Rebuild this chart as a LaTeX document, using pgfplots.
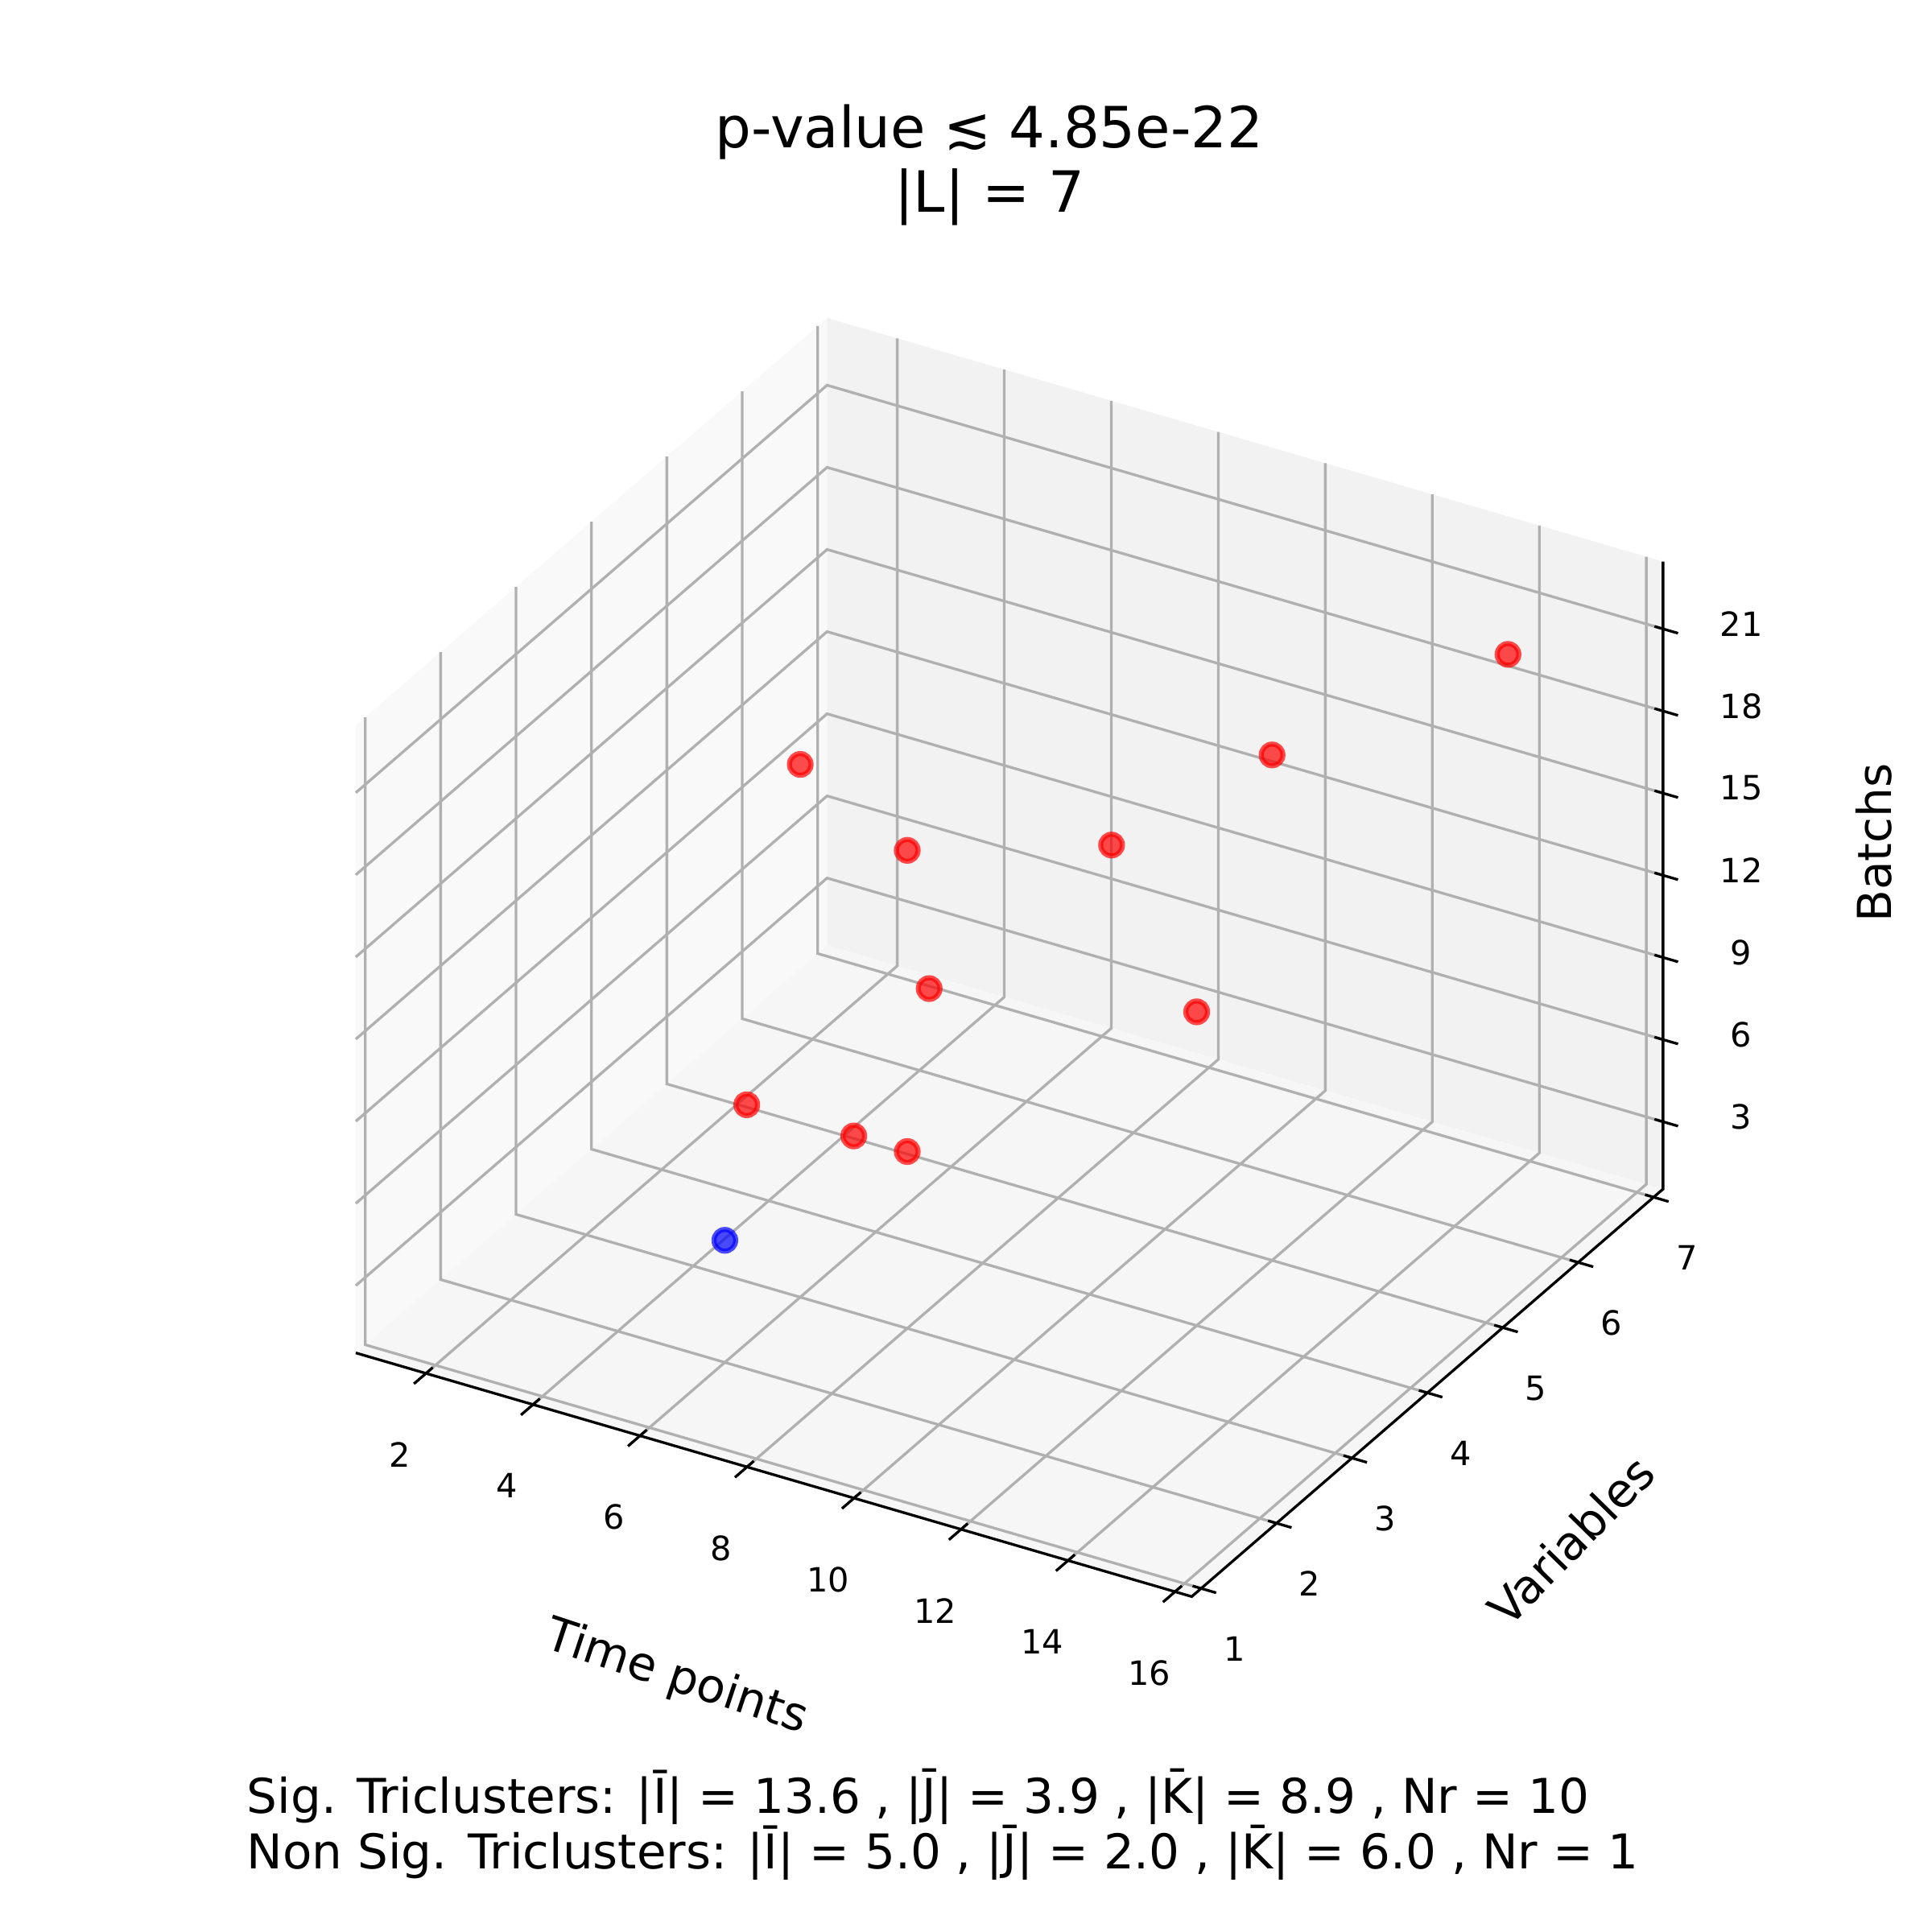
\documentclass[border=0pt]{standalone}
\usepackage{pgfplots}
\pgfplotsset{compat=1.18}
\usepackage{fontspec}
\setmainfont{DejaVu Sans}
\definecolor{paneX}{gray}{0.975}
\definecolor{paneY}{gray}{0.95}
\definecolor{paneZ}{gray}{0.9625}
\definecolor{gridc}{gray}{0.69}
\tikzset{
  gridst/.style={draw=gridc, line width=0.8pt},
  tk/.style={draw=black, line width=0.8pt},
  tl/.style={inner sep=0pt, font=\fontsize{10}{12}\selectfont},
}
\begin{document}
\begin{tikzpicture}
\begin{axis}[
  hide axis, clip=false,
  x={(16.011pt,-4.667pt)}, y={(22.566pt,19.513pt)}, z={(0pt,8.194pt)},
  xmin=0.6875, xmax=16.3125, ymin=0.875, ymax=7.125, zmin=0.5417, zmax=23.4583,
]
% panes
\fill[paneX] (axis cs:0.6875,0.875,0.5417) -- (axis cs:0.6875,7.125,0.5417) -- (axis cs:0.6875,7.125,23.4583) -- (axis cs:0.6875,0.875,23.4583) -- cycle;
\fill[paneY] (axis cs:0.6875,7.125,0.5417) -- (axis cs:16.3125,7.125,0.5417) -- (axis cs:16.3125,7.125,23.4583) -- (axis cs:0.6875,7.125,23.4583) -- cycle;
\fill[paneZ] (axis cs:0.6875,0.875,0.5417) -- (axis cs:16.3125,0.875,0.5417) -- (axis cs:16.3125,7.125,0.5417) -- (axis cs:0.6875,7.125,0.5417) -- cycle;
% grid
\pgfplotsinvokeforeach{2,4,6,8,10,12,14,16}{
  \draw[gridst] (axis cs:#1,0.875,0.5417) -- (axis cs:#1,7.125,0.5417) -- (axis cs:#1,7.125,23.4583);
}
\pgfplotsinvokeforeach{1,2,3,4,5,6,7}{
  \draw[gridst] (axis cs:16.3125,#1,0.5417) -- (axis cs:0.6875,#1,0.5417) -- (axis cs:0.6875,#1,23.4583);
}
\pgfplotsinvokeforeach{3,6,9,12,15,18,21}{
  \draw[gridst] (axis cs:0.6875,0.875,#1) -- (axis cs:0.6875,7.125,#1) -- (axis cs:16.3125,7.125,#1);
}
% axis lines
\draw[tk] (axis cs:0.6875,0.875,0.5417) -- (axis cs:16.3125,0.875,0.5417) -- (axis cs:16.3125,7.125,0.5417) -- (axis cs:16.3125,7.125,23.4583);
% ticks and tick labels
\pgfplotsinvokeforeach{2,4,6,8,10,12,14,16}{
  \draw[tk] (axis cs:#1,0.715,0.5417) -- (axis cs:#1,0.965,0.5417);
  \node[tl, xshift=-7.75pt, yshift=-24.3pt] at (axis cs:#1,0.875,0.5417) {#1};
}
\pgfplotsinvokeforeach{1,2,3,4,5,6,7}{
  \draw[tk] (axis cs:16.1525,#1,0.5417) -- (axis cs:16.5925,#1,0.5417);
  \node[tl, xshift=9.96pt, yshift=-18.06pt] at (axis cs:16.3125,#1,0.5417) {#1};
}
\pgfplotsinvokeforeach{3,6,9,12,15,18,21}{
  \draw[tk] (axis cs:16.1525,7.125,#1) -- (axis cs:16.5925,7.125,#1);
  \node[tl, xshift=23.4pt, yshift=1.5pt] at (axis cs:16.3125,7.125,#1) {#1};
}
% data
\addplot3[only marks, mark=*, mark size=3.25pt,
  mark options={fill=red, draw=red, fill opacity=0.7, draw opacity=0.7, line width=1.5pt}]
  coordinates {(15,6,22) (12,5,19) (6,3,20) (8,3,18) (9,5,14) (7,4,10) (12,4,12) (5,3,7) (7,3,7) (8,3,7)};
\addplot3[only marks, mark=*, mark size=3.25pt,
  mark options={fill=blue, draw=blue, fill opacity=0.7, draw opacity=0.7, line width=1.5pt}]
  coordinates {(6,2,5)};
\coordinate (O) at (axis cs:0.6875,0.875,0.5417);
\end{axis}
\begin{scope}[shift={(O)}, x=0.368724pt, y=-0.368724pt, shift={(-288.75,-1098)}]
  \node[anchor=base, inner sep=0pt, font=\fontsize{17}{20.4}\selectfont] at (803,119.8) {p-value ≲ 4.85e-22};
  \node[anchor=base, inner sep=0pt, font=\fontsize{17}{20.4}\selectfont] at (803,172) {|L| = 7};
  \node[rotate=-18.3, inner sep=0pt, font=\fontsize{14}{16.8}\selectfont] at (549,1362) {Time points};
  \node[rotate=45.6, inner sep=0pt, font=\fontsize{14}{16.8}\selectfont] at (1275,1250) {Variables};
  \node[rotate=90, inner sep=0pt, font=\fontsize{14}{16.8}\selectfont] at (1521,684) {Batchs};
  \node[anchor=base west, inner sep=0pt, font=\fontsize{14.35}{17.2}\selectfont] at (200,1471.5) {Sig. Triclusters: |Ī| = 13.6 , |J̄| = 3.9 , |K̄| = 8.9 , Nr = 10};
  \node[anchor=base west, inner sep=0pt, font=\fontsize{14.35}{17.2}\selectfont] at (200,1517) {Non Sig. Triclusters: |Ī| = 5.0 , |J̄| = 2.0 , |K̄| = 6.0 , Nr = 1};
  \pgfresetboundingbox
  \path[use as bounding box] (0,0) rectangle (1568,1568);
\end{scope}
\end{tikzpicture}
\end{document}
